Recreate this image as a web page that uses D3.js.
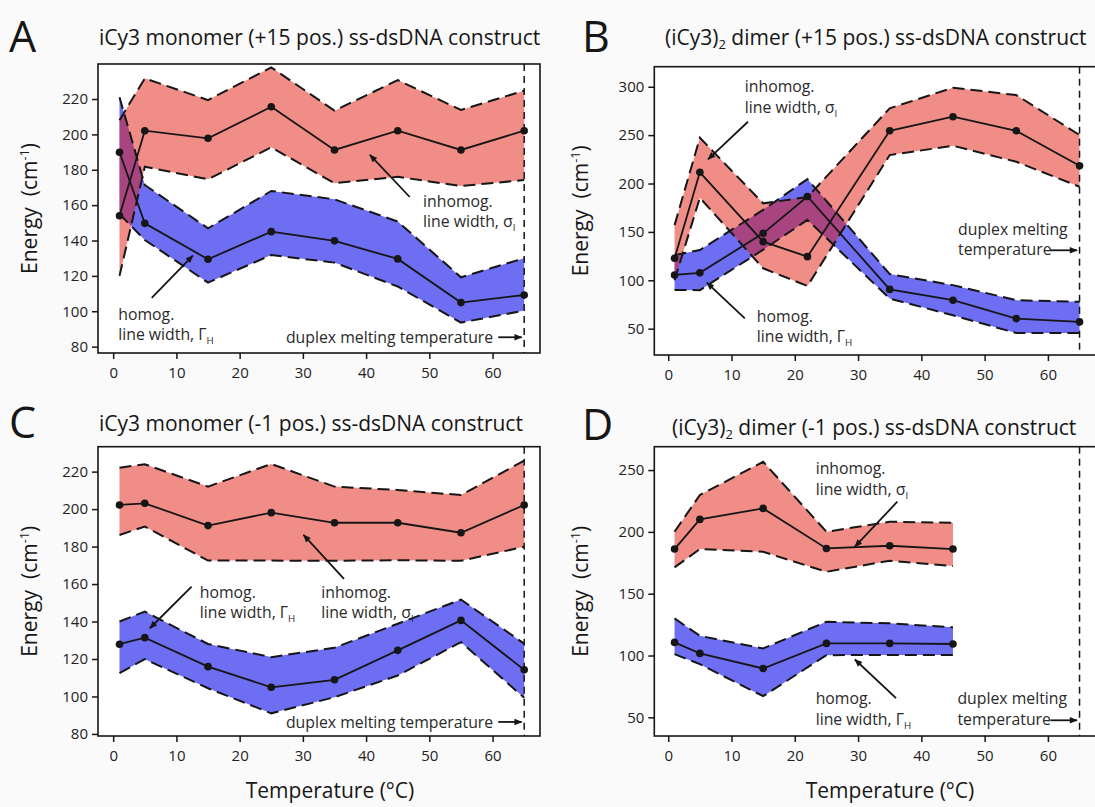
<!DOCTYPE html>
<html>
<head>
<meta charset="utf-8">
<script src="https://cdn.jsdelivr.net/npm/d3@7"></script>
<style>
  body { margin: 0; background: #fafafa; }
  svg { display: block; font-family: "Open Sans", sans-serif; }
</style>
</head>
<body>
<script>
// ---- Data -------------------------------------------------------------
// Temperatures (°C) at which spectra were fitted
const tempsMono   = [1, 5, 15, 25, 35, 45, 55, 65];
const tempsDimerA = [1, 5, 15, 22, 35, 45, 55, 65];
const tempsDimerB = [1, 5, 15, 25, 35, 45];

// Panel A: iCy3 monomer (+15)
const aInhomog   = [154, 202.1, 197.8, 215.6, 191.2, 202.1, 191.2, 202.1];
const aInhomogHi = [208, 231.7, 219.4, 237.9, 213.4, 230.7, 213.8, 224.7];
const aInhomogLo = [120, 181.7, 174.6, 192.7, 172.4, 176.0, 170.8, 174.2];
const aHomog     = [189.9, 149.7, 129.4, 145.0, 139.8, 129.6, 104.9, 109.2];
const aHomogHi   = [221, 171.4, 146.9, 168.0, 163.3, 150.7, 119.2, 130.0];
const aHomogLo   = [155, 140.3, 116.2, 131.8, 127.5, 114.0, 93.6, 100.4];

// Panel B: (iCy3)2 dimer (+15)
const bInhomog   = [122.7, 211.6, 139.9, 124.4, 254.5, 269.0, 254.5, 218.4];
const bInhomogHi = [157, 247.3, 179.5, 186.0, 277.7, 299.0, 291.4, 250.1];
const bInhomogLo = [100, 185.3, 112.4, 94.1, 229.4, 239.0, 222.5, 196.7];
const bHomog     = [105.5, 107.7, 148.5, 186.6, 90.6, 79.4, 60.4, 57.0];
const bHomogHi   = [126, 131.3, 172.8, 204.6, 106.4, 95.0, 79.4, 77.7];
const bHomogLo   = [90, 89.8, 131.6, 162.4, 81.1, 63.8, 45.5, 45.5];

// Panel C: iCy3 monomer (-1)
const cInhomog   = [202.2, 203.1, 191.2, 198.1, 192.7, 192.7, 187.4, 202.2];
const cInhomogHi = [222.1, 223.9, 212.0, 224.1, 212.0, 210.2, 207.5, 225.9];
const cInhomogLo = [186.2, 190.7, 172.5, 172.5, 172.4, 172.7, 172.4, 179.9];
const cHomog     = [127.9, 131.4, 115.9, 104.9, 108.9, 124.6, 140.6, 114.2];
const cHomogHi   = [140.0, 145.3, 128.0, 121.0, 126.0, 138.8, 151.7, 128.2];
const cHomogLo   = [112.4, 119.9, 104.4, 91.0, 99.6, 111.2, 129.0, 99.3];

// Panel D: (iCy3)2 dimer (-1)
const dInhomog   = [186.1, 210.1, 219.0, 186.6, 188.8, 186.1];
const dInhomogHi = [200.1, 229.8, 256.7, 200.1, 208.2, 207.4];
const dInhomogLo = [171.3, 186.1, 183.9, 167.7, 176.7, 172.4];
const dHomog     = [110.6, 101.7, 89.5, 109.8, 109.8, 109.3];
const dHomogHi   = [130.0, 115.9, 105.7, 127.3, 126.0, 122.8];
const dHomogLo   = [101.1, 93.0, 67.1, 100.3, 100.4, 100.4];

// Tick labels
const xTicks      = [0, 10, 20, 30, 40, 50, 60];
const yTicksMono  = [80, 100, 120, 140, 160, 180, 200, 220];
const yTicksDimA  = [50, 100, 150, 200, 250, 300];
const yTicksDimB  = [50, 100, 150, 200, 250];
const meltTemp    = 65;

// ---- Styling ----------------------------------------------------------
const INK = "#161616";
const RED = "#e31b0f";
const BLUE = "#6d6ef2";

const W = 1095, H = 807;
const svg = d3.select("body").append("svg").attr("width", W).attr("height", H);

const defs = svg.append("defs");
defs.append("marker")
  .attr("id", "head")
  .attr("viewBox", "0 0 10 10")
  .attr("refX", 9).attr("refY", 5)
  .attr("markerUnits", "userSpaceOnUse")
  .attr("markerWidth", 10).attr("markerHeight", 8)
  .attr("orient", "auto")
  .append("path").attr("d", "M0,1 L10,5 L0,9 Z").attr("fill", INK);

// Rich text: parts are {t, sub, sup}
function rich(sel, parts) {
  let shift = 0;
  parts.forEach(p => {
    const ts = sel.append("tspan").text(p.t);
    let target = 0;
    if (p.sub) { ts.attr("font-size", "0.62em"); target = 4; }
    if (p.sup) { ts.attr("font-size", "0.6em"); target = -8; }
    if (target !== shift) ts.attr("dy", target - shift);
    shift = target;
  });
  return sel;
}

const sigmaI = [{ t: "line width, σ" }, { t: "I", sub: true }];
const gammaH = [{ t: "line width, Γ" }, { t: "H", sub: true }];

const panels = [
  {
    letter: "A", lx: 9, ly: 52,
    title: [{ t: "iCy3 monomer (+15 pos.) ss-dsDNA construct" }], tx: 99, ty: 45,
    left: 98, right: 540, top: 64, bottom: 353,
    xDomain: [-2.4, 67.5], yDomain: [76.4, 239.8], yTicks: yTicksMono, ylx: 37,
    temps: tempsMono,
    homog: [aHomog, aHomogHi, aHomogLo], inhomog: [aInhomog, aInhomogHi, aInhomogLo],
    notes: [
      { lines: [[{ t: "inhomog." }], sigmaI], at: [49, 159], arrow: [[46.9, 164.6], [40.6, 188.4]] },
      { lines: [[{ t: "homog." }], gammaH], at: [0.8, 95.1], arrow: [[6.1, 107.5], [12.6, 131.5]] },
      { lines: [[{ t: "duplex melting temperature" }]], at: [60.1, 82.1], anchor: "end", arrow: [[60.9, 85.3], [64.6, 85.3]] }
    ],
    xTitle: false
  },
  {
    letter: "B", lx: 582, ly: 52,
    title: [{ t: "(iCy3)" }, { t: "2", sub: true }, { t: " dimer (+15 pos.) ss-dsDNA construct" }], tx: 665, ty: 45,
    left: 654.3, right: 1096, top: 66.7, bottom: 355,
    xDomain: [-2.2, 67.6], yDomain: [22.8, 320.7], yTicks: yTicksDimA, ylx: 588,
    temps: tempsDimerA,
    homog: [bHomog, bHomogHi, bHomogLo], inhomog: [bInhomog, bInhomogHi, bInhomogLo],
    notes: [
      { lines: [[{ t: "inhomog." }], sigmaI], at: [12.1, 294.5], arrow: [[12.6, 263.8], [6.3, 225]] },
      { lines: [[{ t: "homog." }], gammaH], at: [14, 57.2], arrow: [[12.1, 60.7], [6.1, 97.5]] },
      { lines: [[{ t: "duplex melting" }], [{ t: "temperature" }]], at: [45.8, 146.8], arrow: [[60.4, 131], [64.6, 131]] }
    ],
    xTitle: false
  },
  {
    letter: "C", lx: 9, ly: 438,
    title: [{ t: "iCy3 monomer (-1 pos.) ss-dsDNA construct" }], tx: 99, ty: 431,
    left: 98, right: 540, top: 446.7, bottom: 736,
    xDomain: [-2.4, 67.5], yDomain: [78.9, 233.3], yTicks: yTicksMono, ylx: 37,
    temps: tempsMono,
    homog: [cHomog, cHomogHi, cHomogLo], inhomog: [cInhomog, cInhomogHi, cInhomogLo],
    notes: [
      { lines: [[{ t: "homog." }], gammaH], at: [13.7, 152.6], arrow: [[12.4, 158.6], [5.8, 136.4]] },
      { lines: [[{ t: "inhomog." }], sigmaI], at: [32.9, 152.6], arrow: [[36.5, 162.7], [30.1, 186.2]] },
      { lines: [[{ t: "duplex melting temperature" }]], at: [60.1, 83.1], anchor: "end", arrow: [[60.9, 86.4], [64.6, 86.4]] }
    ],
    xTitle: true, xtx: 330
  },
  {
    letter: "D", lx: 582, ly: 440,
    title: [{ t: "(iCy3)" }, { t: "2", sub: true }, { t: " dimer (-1 pos.) ss-dsDNA construct" }], tx: 672, ty: 435,
    left: 654.3, right: 1096, top: 446.7, bottom: 736,
    xDomain: [-2.2, 67.6], yDomain: [34.9, 268.9], yTicks: yTicksDimB, ylx: 588,
    temps: tempsDimerB,
    homog: [dHomog, dHomogHi, dHomogLo], inhomog: [dInhomog, dInhomogHi, dInhomogLo],
    notes: [
      { lines: [[{ t: "inhomog." }], sigmaI], at: [23.3, 246.8], arrow: [[36.2, 224.4], [29.5, 188]] },
      { lines: [[{ t: "homog." }], gammaH], at: [23.3, 60.7], arrow: [[36, 65.5], [29.5, 96.8]] },
      { lines: [[{ t: "duplex melting" }], [{ t: "temperature" }]], at: [45.7, 60.7], arrow: [[60.4, 47.6], [64.6, 47.6]] }
    ],
    xTitle: true, xtx: 890
  }
];

function drawPanel(p) {
  const g = svg.append("g");
  const x = d3.scaleLinear().domain(p.xDomain).range([p.left, p.right]);
  const y = d3.scaleLinear().domain(p.yDomain).range([p.bottom, p.top]);

  // Panel letter and title
  g.append("text").attr("x", p.lx).attr("y", p.ly)
    .attr("font-size", 43).attr("fill", INK).text(p.letter);
  rich(g.append("text").attr("x", p.tx).attr("y", p.ty)
    .attr("font-size", 21).attr("fill", INK), p.title);

  // Plot area
  g.append("rect").attr("x", p.left).attr("y", p.top)
    .attr("width", p.right - p.left).attr("height", p.bottom - p.top)
    .attr("fill", "#ffffff");

  const clipId = "clip" + p.letter;
  g.append("clipPath").attr("id", clipId).append("rect")
    .attr("x", p.left).attr("y", p.top)
    .attr("width", p.right - p.left).attr("height", p.bottom - p.top);
  const plot = g.append("g").attr("clip-path", `url(#${clipId})`);

  const rows = (vals) => p.temps.map((t, i) => ({ t, mid: vals[0][i], hi: vals[1][i], lo: vals[2][i] }));
  const series = [
    { rows: rows(p.homog), fill: BLUE, opacity: 1 },
    { rows: rows(p.inhomog), fill: RED, opacity: 0.5 }
  ];

  const area = d3.area().x(d => x(d.t)).y0(d => y(d.lo)).y1(d => y(d.hi));
  series.forEach(s => {
    plot.append("path").datum(s.rows).attr("d", area)
      .attr("fill", s.fill).attr("fill-opacity", s.opacity);
  });

  // Dashed bounds
  series.forEach(s => {
    ["hi", "lo"].forEach(k => {
      plot.append("path").datum(s.rows)
        .attr("d", d3.line().x(d => x(d.t)).y(d => y(d[k])))
        .attr("fill", "none").attr("stroke", INK).attr("stroke-width", 2)
        .attr("stroke-dasharray", "12,6");
    });
  });

  // Fitted values
  series.forEach(s => {
    plot.append("path").datum(s.rows)
      .attr("d", d3.line().x(d => x(d.t)).y(d => y(d.mid)))
      .attr("fill", "none").attr("stroke", INK).attr("stroke-width", 1.8);
    plot.selectAll(null).data(s.rows).join("circle")
      .attr("cx", d => x(d.t)).attr("cy", d => y(d.mid)).attr("r", 3.8)
      .attr("fill", INK);
  });

  // Duplex melting temperature marker
  plot.append("line")
    .attr("x1", x(meltTemp)).attr("x2", x(meltTemp))
    .attr("y1", p.top).attr("y2", p.bottom)
    .attr("stroke", INK).attr("stroke-width", 1.5).attr("stroke-dasharray", "7,5");

  // Annotations
  p.notes.forEach(n => {
    const t = g.append("text").attr("font-size", 15.8).attr("fill", "#2a2a2a")
      .attr("text-anchor", n.anchor || "start");
    n.lines.forEach((ln, i) => {
      const line = t.append("tspan").attr("x", x(n.at[0])).attr("y", y(n.at[1]) + i * 20.5);
      rich(line, ln);
    });
    g.append("line")
      .attr("x1", x(n.arrow[0][0])).attr("y1", y(n.arrow[0][1]))
      .attr("x2", x(n.arrow[1][0])).attr("y2", y(n.arrow[1][1]))
      .attr("stroke", INK).attr("stroke-width", 1.8)
      .attr("marker-end", "url(#head)");
  });

  // Axes
  const yAxis = g.append("g").attr("transform", `translate(${p.left},0)`)
    .call(d3.axisLeft(y).tickValues(p.yTicks).tickSize(6).tickPadding(4));
  const xAxis = g.append("g").attr("transform", `translate(0,${p.bottom})`)
    .call(d3.axisBottom(x).tickValues(xTicks).tickSize(6).tickPadding(8));
  [yAxis, xAxis].forEach(a => {
    a.select(".domain").remove();
    a.attr("font-family", null);
    a.selectAll("text").attr("font-size", 15).attr("fill", "#222");
    a.selectAll("line").attr("stroke", INK).attr("stroke-width", 1.5);
  });

  // Frame
  g.append("rect").attr("x", p.left).attr("y", p.top)
    .attr("width", p.right - p.left).attr("height", p.bottom - p.top)
    .attr("fill", "none").attr("stroke", INK).attr("stroke-width", 1.6);

  // Axis titles
  rich(g.append("text")
    .attr("transform", `translate(${p.ylx},${(p.top + p.bottom) / 2}) rotate(-90)`)
    .attr("text-anchor", "middle").attr("font-size", 21).attr("fill", INK),
    [{ t: "Energy\u00a0\u00a0(cm" }, { t: "-1", sup: true }, { t: ")" }]);

  if (p.xTitle) {
    g.append("text").attr("x", p.xtx).attr("y", p.bottom + 62)
      .attr("text-anchor", "middle").attr("font-size", 21).attr("fill", INK)
      .text("Temperature (°C)");
  }
}

panels.forEach(drawPanel);
</script>
</body>
</html>
